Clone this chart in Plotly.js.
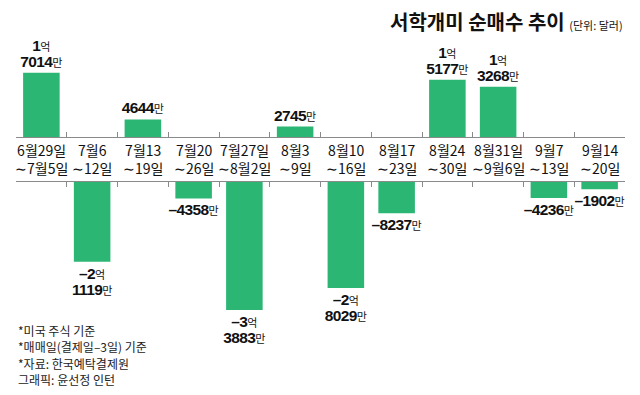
<!DOCTYPE html>
<html><head><meta charset="utf-8">
<script src="https://cdn.plot.ly/plotly-3.0.1.min.js"></script>
<style>html,body{margin:0;padding:0;background:#fff}#chart{width:640px;height:395px}</style>
</head><body><div id="chart"></div>
<script>
// Weekly net purchases of US stocks by Korean retail investors (unit: 10,000 USD = 만 달러)
const categories = ["6월29일<br>∼7월5일","7월6<br>∼12일","7월13<br>∼19일","7월20<br>∼26일","7월27일<br>∼8월2일","8월3<br>∼9일","8월10<br>∼16일","8월17<br>∼23일","8월24<br>∼30일","8월31일<br>∼9월6일","9월7<br>∼13일","9월14<br>∼20일"];
const netBuy = [17014, -21119, 4644, -4358, -33883, 2745, -28029, -8237, 15177, 13268, -4236, -1902];
const footnotes = ["*미국 주식 기준","*매매일(결제일–3일) 기준","*자료: 한국예탁결제원","그래픽: 윤선정 인턴"];
const titleText = "서학개미 순매수 추이";
const unitText = "(단위: 달러)";

const GREEN = "#2cb673";
const AXIS = "#8a8a8a";
const H = 395, W = 640;
const K = 0.00378; // px per unit
const upTop = 137, lowTop = 182;
const xs = categories.map((_, i) => i);
const tickPos = [];
for (let i = 0; i <= categories.length; i++) tickPos.push(i - 0.5);

function numSpan(s){
  return `<span style="font-family:'Liberation Sans Narrow','Liberation Sans',sans-serif;font-size:15.5px;letter-spacing:-0.6px"><b>${s}</b></span>`;
}
function unitSpan(s){
  return `<span style="font-size:11px">${s}</span>`;
}
function label(v){
  const a = Math.abs(v), eok = Math.floor(a / 10000), man = a % 10000, sign = v < 0 ? '–' : '';
  if (eok > 0) return numSpan(sign + eok) + unitSpan('억') + '<br>' + numSpan(man) + unitSpan('만');
  return numSpan(sign + man) + unitSpan('만');
}

const posVals = netBuy.map(v => v > 0 ? v : null);
const negVals = netBuy.map(v => v < 0 ? v : null);
const labels = netBuy.map(label);

const textfont = {family: "'Noto Sans CJK KR', sans-serif", size: 12.3, color: "#111"};
const common = {type: 'bar', x: xs, width: 0.72, marker: {color: GREEN, line: {width: 0}},
  textposition: 'outside', cliponaxis: false, constraintext: 'none', textfont: textfont,
  hoverinfo: 'skip', showlegend: false};

const traces = [
  Object.assign({}, common, {y: posVals, text: posVals.map((v,i)=> v===null?'':labels[i]), xaxis: 'x', yaxis: 'y'}),
  Object.assign({}, common, {y: negVals, text: negVals.map((v,i)=> v===null?'':labels[i]), xaxis: 'x2', yaxis: 'y2'})
];

const xCommon = {range: [-0.5, categories.length - 0.5], domain: [16/W, 625/W], showgrid: false, zeroline: false,
  showline: true, linecolor: AXIS, linewidth: 1, ticks: 'inside', ticklen: 5, tickcolor: AXIS, tickwidth: 1,
  tickmode: 'array', tickvals: tickPos, showticklabels: false, fixedrange: true};

const annotations = categories.map((c, i) => ({
  x: i, xref: 'x', y: 1 - ((upTop + lowTop) / 2) / H, yref: 'paper', yanchor: 'middle', xanchor: 'center',
  text: c, showarrow: false, font: {family: "'Noto Sans CJK KR', sans-serif", size: 14, color: '#111'}
}));
const footY = [330, 346.5, 363, 379.5];
footnotes.forEach((f, i) => annotations.push({
  x: 17/W, xref: 'paper', xanchor: 'left', y: 1 - footY[i]/H, yref: 'paper', yanchor: 'middle', align: 'left',
  text: f, showarrow: false, borderpad: 0,
  font: {family: "'Noto Sans CJK KR', sans-serif", size: 12, color: '#222'}
}));
annotations.push({
  x: 625/W, xref: 'paper', xanchor: 'right', y: 1 - 22/H, yref: 'paper', yanchor: 'middle',
  text: `<b>${titleText}</b> <span style="font-size:11px">${unitText}</span>`, showarrow: false,
  font: {family: "'Noto Sans CJK KR', sans-serif", size: 20, color: '#111'}
});

const layout = {
  width: W, height: H, margin: {l: 0, r: 0, t: 0, b: 0},
  paper_bgcolor: '#fff', plot_bgcolor: 'rgba(0,0,0,0)', showlegend: false, hovermode: false,
  xaxis: Object.assign({}, xCommon, {anchor: 'y', side: 'bottom'}),
  xaxis2: Object.assign({}, xCommon, {anchor: 'y2', side: 'top', matches: 'x'}),
  yaxis: {domain: [1 - upTop/H, 1], range: [0, upTop / K], visible: false, fixedrange: true},
  yaxis2: {domain: [0, 1 - lowTop/H], range: [-(H - lowTop) / K, 0], visible: false, fixedrange: true},
  bargap: 0.28,
  annotations: annotations
};

Plotly.newPlot('chart', traces, layout, {displayModeBar: false, staticPlot: true});
</script>
</body></html>
